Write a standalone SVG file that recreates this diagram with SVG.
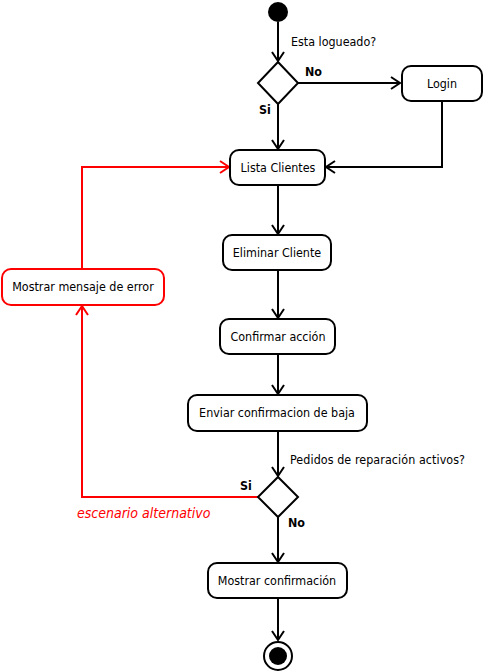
<svg xmlns="http://www.w3.org/2000/svg" width="483" height="671" viewBox="0 0 483 671">
<defs>
<marker id="ah" markerWidth="12" markerHeight="14" refX="10" refY="7" orient="auto" markerUnits="userSpaceOnUse">
<path d="M1,1 L10,7 L1,13" fill="none" stroke="#000" stroke-width="2"/>
</marker>
<marker id="ahr" markerWidth="12" markerHeight="14" refX="10" refY="7" orient="auto" markerUnits="userSpaceOnUse">
<path d="M1,1 L10,7 L1,13" fill="none" stroke="#f00" stroke-width="2"/>
</marker>
</defs>
<style>
.box{fill:#fff;stroke:#000;stroke-width:2}
.rbox{fill:#fff;stroke:#f00;stroke-width:2}
.t{font-family:"DejaVu Sans Condensed","DejaVu Sans",sans-serif;font-stretch:condensed;font-size:12.4px;fill:#000}
.c{text-anchor:middle}
.b{font-weight:bold}
.ln{fill:none;stroke:#000;stroke-width:2}
.rl{fill:none;stroke:#f00;stroke-width:2}
</style>
<rect width="483" height="671" fill="#fff"/>
<g id="edges">
<path class="ln" d="M278,22 L278,61" marker-end="url(#ah)"/>
<path class="ln" d="M298,83 L400,83" marker-end="url(#ah)"/>
<path class="ln" d="M278,104 L278,149" marker-end="url(#ah)"/>
<path class="ln" d="M442,101 L442,167 L326,167" marker-end="url(#ah)"/>
<path class="ln" d="M278,185 L278,234" marker-end="url(#ah)"/>
<path class="ln" d="M278,270 L278,318" marker-end="url(#ah)"/>
<path class="ln" d="M278,354 L278,394" marker-end="url(#ah)"/>
<path class="ln" d="M278,431 L278,476" marker-end="url(#ah)"/>
<path class="ln" d="M278,517 L278,562" marker-end="url(#ah)"/>
<path class="ln" d="M278,598 L278,640" marker-end="url(#ah)"/>
<path class="rl" d="M82,268 L82,167 L229,167" marker-end="url(#ahr)"/>
<path class="rl" d="M258,497 L82,497 L82,306" marker-end="url(#ahr)"/>
<text class="t" x="291" y="46">Esta logueado?</text>
<text class="t b" x="305" y="76">No</text>
<text class="t b" x="259" y="114">Si</text>
<text class="t" x="290" y="464" textLength="175">Pedidos de reparación activos?</text>
<text class="t b" x="240" y="490">Si</text>
<text class="t b" x="288" y="527">No</text>
<text class="t" x="77" y="518" style="fill:#f00;font-style:italic;font-size:14px">escenario alternativo</text>
</g>
<g id="start"><circle cx="278" cy="12" r="10" fill="#000"/></g>
<g id="d1"><polygon class="box" points="278,62 298,83 278,104 258,83"/></g>
<g id="login"><rect class="box" x="402" y="66" width="80" height="35" rx="9"/><text class="t c" x="442" y="88">Login</text></g>
<g id="lista"><rect class="box" x="230" y="150" width="95" height="35" rx="9"/><text class="t c" x="278" y="172">Lista Clientes</text></g>
<g id="eliminar"><rect class="box" x="223" y="235" width="108" height="35" rx="9"/><text class="t c" x="277" y="257">Eliminar Cliente</text></g>
<g id="error"><rect class="rbox" x="2" y="269" width="162" height="36" rx="9"/><text class="t c" x="83" y="291">Mostrar mensaje de error</text></g>
<g id="confirmar"><rect class="box" x="220" y="319" width="115" height="35" rx="9"/><text class="t c" x="278" y="341">Confirmar acción</text></g>
<g id="enviar"><rect class="box" x="188" y="395" width="179" height="36" rx="9"/><text class="t c" x="277" y="417">Enviar confirmacion de baja</text></g>
<g id="d2"><polygon class="box" points="278,477 298,497 278,517 258,497"/></g>
<g id="mostrar"><rect class="box" x="208" y="563" width="139" height="35" rx="9"/><text class="t c" x="277" y="585">Mostrar confirmación</text></g>
<g id="end"><circle cx="278" cy="656" r="14" fill="#fff" stroke="#000" stroke-width="2"/><circle cx="278" cy="656" r="9" fill="#000"/></g>
</svg>
